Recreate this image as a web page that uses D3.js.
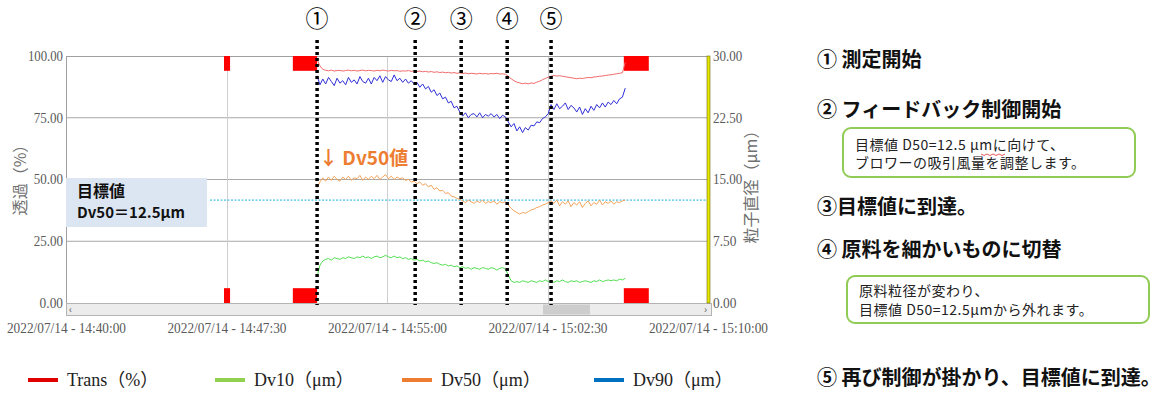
<!DOCTYPE html>
<html>
<head>
<meta charset="utf-8">
<script src="https://cdn.jsdelivr.net/npm/d3@7"></script>
<style>
  body { margin: 0; background: #fff; }
  svg { display: block; }
</style>
</head>
<body>
<script>
// ---- data ----
var dateStr = "2022/07/14";
var xTicks = ["14:40:00", "14:47:30", "14:55:00", "15:02:30", "15:10:00"];
var leftTicks = [0, 25, 50, 75, 100];
var rightTicks = [0, 7.5, 15, 22.5, 30];

// samples every 8 s starting at 14:51:44
var sampleStart = "14:51:44",
    sampleStepSec = 8;

var trans = [
  98.5, 96.0, 94.6, 94.2, 94.0, 94.3, 93.9, 94.1, 94.2, 93.9,
  94.1, 94.3, 94.0, 94.2, 93.9, 94.1, 94.3, 94.0, 94.2, 94.1,
  93.9, 94.2, 94.0, 94.3, 94.1, 93.9, 94.2, 94.0, 94.1, 93.8,
  94.0, 93.9, 94.1, 93.8, 93.9, 93.7, 93.9, 93.6, 93.8, 93.5,
  93.7, 93.4, 93.6, 93.3, 93.5, 93.2, 93.4, 93.1, 93.3, 93.0,
  93.2, 92.9, 93.1, 92.8, 93.0, 92.9, 92.7, 93.0, 92.8, 92.9,
  92.7, 92.9, 92.8, 93.0, 92.7, 92.8, 92.6, 91.8, 90.8, 90.0,
  89.4, 89.1, 88.8, 89.0, 88.7, 89.1, 88.9, 89.4, 89.8, 90.4,
  90.9, 91.4, 91.8, 92.1, 91.9, 92.0, 91.8, 91.6, 91.4, 91.2,
  91.0, 90.8, 91.0, 90.9, 91.1, 91.3, 91.2, 91.5, 91.6, 91.8,
  91.9, 92.1, 92.3, 92.4, 92.6, 92.8, 93.0, 93.2, 97.4
];
var dv90 = [
  27.6, 26.5, 27.2, 26.6, 27.4, 26.9, 26.4, 27.3, 26.7, 27.0,
  26.5, 27.4, 26.8, 27.1, 26.6, 27.5, 26.9, 26.7, 27.3, 26.6,
  27.4, 27.0, 27.6, 26.8, 27.5, 27.1, 26.9, 27.7, 27.0, 27.3,
  26.8, 27.2, 26.7, 27.0, 26.6, 26.8, 26.2, 26.6, 26.0, 26.3,
  25.6, 25.9, 25.2, 25.5, 24.8, 25.0, 24.3, 24.5, 23.7, 23.9,
  23.2, 22.7, 23.1, 22.5, 22.9, 23.0, 22.6, 23.1, 22.5, 22.9,
  22.7, 23.0, 22.6, 22.9, 22.4, 22.8, 22.6, 22.0, 21.4, 21.8,
  20.9, 21.4, 20.7, 21.3, 21.0, 21.6, 21.5, 22.0, 21.9, 22.4,
  22.6, 23.0, 24.1, 23.5, 24.2, 23.6, 23.9, 24.3, 23.5, 24.0,
  23.7, 23.2, 23.8, 22.9, 23.6, 23.1, 23.9, 23.4, 24.1, 23.7,
  24.3, 23.8, 24.4, 24.1, 24.6, 24.2, 24.8, 25.0, 26.1
];
var dv50 = [
  14.0, 14.7, 15.2, 14.8, 15.3, 14.9, 15.4, 15.0, 14.8, 15.3,
  15.0, 15.4, 14.9, 15.2, 15.1, 15.5, 14.9, 15.3, 15.0, 15.4,
  15.1, 15.5, 15.0, 15.3, 15.6, 15.1, 15.4, 15.0, 15.3, 15.1,
  15.2, 14.9, 15.0, 14.7, 14.8, 14.5, 14.7, 14.3, 14.5, 14.1,
  14.3, 13.8, 14.0, 13.6, 13.7, 13.3, 13.4, 13.0, 12.9, 12.7,
  12.6, 12.4, 12.2, 12.5, 12.3, 12.1, 12.4, 12.2, 12.5, 12.1,
  12.3, 12.2, 12.4, 12.0, 12.3, 12.2, 12.3, 11.9, 11.5, 11.2,
  11.0, 10.8, 11.0, 10.9, 11.1, 11.3, 11.4, 11.6, 11.7, 11.9,
  12.0, 12.2, 12.4, 12.1, 12.5, 11.8, 12.3, 12.0, 12.4, 11.7,
  12.2, 11.9, 12.3, 11.6, 12.1, 12.4, 11.8, 12.2, 12.0, 12.5,
  11.9, 12.3, 12.1, 12.4, 12.0, 12.3, 12.2, 12.4, 12.5
];
var dv10 = [
  3.2, 4.6, 5.1, 5.3, 5.4, 5.2, 5.5, 5.4, 5.3, 5.5,
  5.4, 5.6, 5.5, 5.4, 5.6, 5.5, 5.7, 5.5, 5.6, 5.4,
  5.6, 5.7, 5.5, 5.6, 5.8, 5.6, 5.5, 5.7, 5.5, 5.6,
  5.4, 5.5, 5.3, 5.4, 5.2, 5.3, 5.1, 5.2, 5.0, 5.1,
  4.9, 4.8, 4.9, 4.7, 4.6, 4.7, 4.5, 4.6, 4.4, 4.5,
  4.3, 4.4, 4.2, 4.3, 4.1, 4.3, 4.2, 4.1, 4.3, 4.2,
  4.1, 4.3, 4.2, 4.0, 4.2, 4.3, 4.1, 3.4, 2.7, 2.5,
  2.6, 2.5, 2.7, 2.6, 2.5, 2.7, 2.6, 2.5, 2.7, 2.6,
  2.8, 2.6, 2.7, 2.5, 2.7, 2.6, 2.8, 2.6, 2.5, 2.7,
  2.6, 2.7, 2.5, 2.6, 2.7, 2.6, 2.5, 2.7, 2.6, 2.8,
  2.6, 2.7, 2.8, 2.7, 2.8, 2.7, 2.9, 2.8, 3.0
];

var targetDv50 = 12.5;

// red out-of-range markers (start, end), depth in % of the left axis
var markerSpans = [["14:47:23", "14:47:40"], ["14:50:36", "14:51:44"], ["15:06:04", "15:07:14"]];
var markerDepth = 6;

var eventLabels = ["①", "②", "③", "④", "⑤"];
var eventTimes = ["14:51:44", "14:56:19", "14:58:28", "15:00:37", "15:02:40"];

var legendNames = ["Trans（%）", "Dv10（μm）", "Dv50（μm）", "Dv90（μm）"];
var legendColors = ["#e00000", "#92d050", "#ed7d31", "#0070c0"];

var noteHeads = ["① 測定開始", "② フィードバック制御開始", "③目標値に到達。", "④ 原料を細かいものに切替", "⑤ 再び制御が掛かり、目標値に到達。"];
var noteBox1 = ["目標値 D50=12.5 μmに向けて、", "ブロワーの吸引風量を調整します。"];
var noteBox2 = ["原料粒径が変わり、", "目標値 D50=12.5μmから外れます。"];

// ---- setup ----
var width = 1176, height = 403;
var parseT = d3.timeParse("%Y/%m/%d %H:%M:%S");
function toDate(s) { return parseT(dateStr + " " + s); }
var fmtT = d3.timeFormat("%H:%M:%S");

var plot = { left: 66, right: 708, top: 56, bottom: 303 };

var x = d3.scaleTime()
    .domain([toDate(xTicks[0]), toDate(xTicks[xTicks.length - 1])])
    .range([plot.left, plot.right]);
var yL = d3.scaleLinear().domain([0, 100]).range([plot.bottom, plot.top]);
var yR = d3.scaleLinear().domain([0, 30]).range([plot.bottom, plot.top]);

var t0 = toDate(sampleStart);
var times = trans.map(function(d, i){ return new Date(t0.getTime() + i * sampleStepSec * 1000); });

var svg = d3.select("body").append("svg")
    .attr("width", width)
    .attr("height", height);

var cjk = "'Noto Sans CJK JP', 'Noto Sans', sans-serif";
var serif = "'Liberation Serif', 'DejaVu Serif', 'Noto Sans CJK JP', serif";

//grid lines
svg.append("g").selectAll("line")
    .data(leftTicks.filter(function(d){ return d > 0 && d < 100; }))
    .enter().append("line")
    .attr("x1", plot.left).attr("x2", plot.right)
    .attr("y1", function(d){ return yL(d); }).attr("y2", function(d){ return yL(d); })
    .attr("stroke", "#a8a8a8").attr("stroke-width", 1);

svg.append("g").selectAll("line")
    .data(xTicks.slice(1, -1))
    .enter().append("line")
    .attr("x1", function(d){ return Math.round(x(toDate(d))) + 0.5; })
    .attr("x2", function(d){ return Math.round(x(toDate(d))) + 0.5; })
    .attr("y1", plot.top).attr("y2", plot.bottom)
    .attr("stroke", "#cfcfcf").attr("stroke-width", 1);

//frame
svg.append("line").attr("x1", plot.left).attr("x2", plot.right)
    .attr("y1", plot.top + 0.5).attr("y2", plot.top + 0.5)
    .attr("stroke", "#a0a0a0");
svg.append("line").attr("x1", plot.left + 0.5).attr("x2", plot.left + 0.5)
    .attr("y1", plot.top).attr("y2", 316)
    .attr("stroke", "#a0a0a0");

//scroll bar
svg.append("rect").attr("x", plot.left + 0.5).attr("y", plot.bottom + 0.5)
    .attr("width", 645).attr("height", 12)
    .attr("fill", "#ececec").attr("stroke", "#b4b4b4");
svg.append("rect").attr("x", 543).attr("y", plot.bottom + 1.5)
    .attr("width", 47).attr("height", 10).attr("fill", "#cdcdcd");
svg.append("text").attr("x", 69).attr("y", 313).text("‹")
    .attr("font-size", 10).attr("fill", "#555").style("font-family", cjk);
svg.append("text").attr("x", 704).attr("y", 313).text("›")
    .attr("font-size", 10).attr("fill", "#555").style("font-family", cjk);

//target line
svg.append("line")
    .attr("x1", 210).attr("x2", plot.right)
    .attr("y1", yR(targetDv50)).attr("y2", yR(targetDv50))
    .attr("stroke", "#1ab0e0").attr("stroke-width", 1)
    .attr("stroke-dasharray", "2,1.5");

//red markers
var mk = svg.append("g");
markerSpans.forEach(function(s){
    var xa = x(toDate(s[0])), xb = x(toDate(s[1]));
    mk.append("rect").attr("x", xa).attr("width", xb - xa)
        .attr("y", yL(100)).attr("height", yL(100 - markerDepth) - yL(100))
        .attr("fill", "#ff0000");
    mk.append("rect").attr("x", xa).attr("width", xb - xa)
        .attr("y", yL(markerDepth)).attr("height", yL(0) - yL(markerDepth))
        .attr("fill", "#ff0000");
});

//series
function drawSeries(vals, scale, color){
    var line = d3.line()
        .x(function(d, i){ return x(times[i]); })
        .y(function(d){ return scale(d); });
    svg.append("path").datum(vals)
        .attr("d", line)
        .attr("fill", "none")
        .attr("stroke", color)
        .attr("stroke-width", 1);
}
drawSeries(trans, yL, "#f26a6a");
drawSeries(dv90, yR, "#2f2fd6");
drawSeries(dv50, yR, "#f3a45c");
drawSeries(dv10, yR, "#52de52");

//yellow right edge
svg.append("rect").attr("x", plot.right - 1).attr("y", plot.top)
    .attr("width", 3).attr("height", plot.bottom - plot.top)
    .attr("fill", "#e6e600").attr("stroke", "#6d6d00").attr("stroke-width", 0.6);

//axes
function styleTicks(g, len){
    g.select(".domain").remove();
    g.selectAll("text")
        .attr("fill", "#5a5a5a")
        .style("font-family", serif)
        .style("font-size", "14px")
        .attr("textLength", function(){ return this.textContent.length * len; })
        .attr("lengthAdjust", "spacingAndGlyphs");
}

svg.append("g")
    .attr("transform", "translate(0,315)")
    .call(d3.axisBottom(x)
        .tickValues(xTicks.map(toDate))
        .tickFormat(function(d){ return dateStr + " - " + fmtT(d); })
        .tickSize(0).tickPadding(8))
    .call(function(g){ styleTicks(g, 5.67); });

svg.append("g")
    .attr("transform", "translate(" + plot.left + ",0)")
    .call(d3.axisLeft(yL).tickValues(leftTicks).tickFormat(d3.format(".2f"))
        .tickSize(0).tickPadding(3))
    .call(function(g){ styleTicks(g, 5.85); });

svg.append("g")
    .attr("transform", "translate(" + (plot.right + 2) + ",0)")
    .call(d3.axisRight(yR).tickValues(rightTicks).tickFormat(d3.format(".2f"))
        .tickSize(0).tickPadding(3))
    .call(function(g){ styleTicks(g, 5.85); });

//axis titles
svg.append("text")
    .attr("transform", "translate(26,176) rotate(-90)")
    .attr("text-anchor", "middle")
    .attr("fill", "#707070")
    .style("font-family", cjk).style("font-size", "16px")
    .text("透過（%）");
svg.append("text")
    .attr("transform", "translate(757,183) rotate(-90)")
    .attr("text-anchor", "middle")
    .attr("fill", "#707070")
    .style("font-family", cjk).style("font-size", "16px")
    .text("粒子直径（μm）");

//event dashed lines
var ev = svg.append("g");
eventTimes.forEach(function(t, i){
    var xe = x(toDate(t));
    ev.append("line")
        .attr("x1", xe).attr("x2", xe)
        .attr("y1", 40).attr("y2", 305)
        .attr("stroke", "#000").attr("stroke-width", 3.5)
        .attr("stroke-dasharray", "3,3");
    ev.append("text")
        .attr("x", xe).attr("y", 27)
        .attr("text-anchor", "middle")
        .style("font-family", cjk).style("font-size", "23px")
        .attr("fill", "#000")
        .text(eventLabels[i]);
});

//target label box
svg.append("rect").attr("x", plot.left).attr("y", 178)
    .attr("width", 141).attr("height", 49).attr("fill", "#dce6f2");
svg.append("text").attr("x", 77).attr("y", 197)
    .style("font-family", cjk).style("font-size", "16px").style("font-weight", "bold")
    .attr("fill", "#111").text("目標値");
svg.append("text").attr("x", 77).attr("y", 218)
    .style("font-family", cjk).style("font-size", "15px").style("font-weight", "bold")
    .attr("fill", "#111").text("Dv50＝12.5μm");

//Dv50 label
svg.append("text").attr("x", 319).attr("y", 165)
    .style("font-family", cjk).style("font-size", "19px").style("font-weight", "bold")
    .attr("fill", "#ed7d31").text("↓ Dv50値");

//legend
var lg = svg.append("g");
var legendX = [28, 215, 402, 594];
legendNames.forEach(function(n, i){
    lg.append("line")
        .attr("x1", legendX[i]).attr("x2", legendX[i] + 30)
        .attr("y1", 380).attr("y2", 380)
        .attr("stroke", legendColors[i]).attr("stroke-width", 4);
    lg.append("text")
        .attr("x", legendX[i] + 39).attr("y", 386)
        .style("font-family", serif).style("font-size", "18px")
        .attr("fill", "#222").text(n);
});

//notes on the right
var noteY = [67, 117, 214, 257, 385];
noteHeads.forEach(function(n, i){
    svg.append("text").attr("x", 817).attr("y", noteY[i])
        .style("font-family", cjk).style("font-size", "20px").style("font-weight", "bold")
        .attr("fill", "#111").text(n);
});

function noteBox(x0, y0, w, h, lines, lineY){
    svg.append("rect").attr("x", x0).attr("y", y0).attr("width", w).attr("height", h)
        .attr("rx", 8).attr("fill", "#fff")
        .attr("stroke", "#8fcb55").attr("stroke-width", 2);
    lines.forEach(function(l, i){
        svg.append("text").attr("x", x0 + 12).attr("y", lineY[i])
            .style("font-family", cjk).style("font-size", "14px")
            .style("letter-spacing", "0.5px")
            .attr("fill", "#222").text(l);
    });
}
noteBox(843, 128, 292, 49, noteBox1, [150, 168]);
noteBox(847, 276, 302, 47, noteBox2, [296, 315]);

//spell-check squiggle under "μm"
var sq = d3.range(0, 9).map(function(i){ return [981 + i * 3, 154 + (i % 2) * 1.5]; });
svg.append("path").attr("d", d3.line()(sq))
    .attr("fill", "none").attr("stroke", "#e03030").attr("stroke-width", 0.8);
</script>
</body>
</html>
